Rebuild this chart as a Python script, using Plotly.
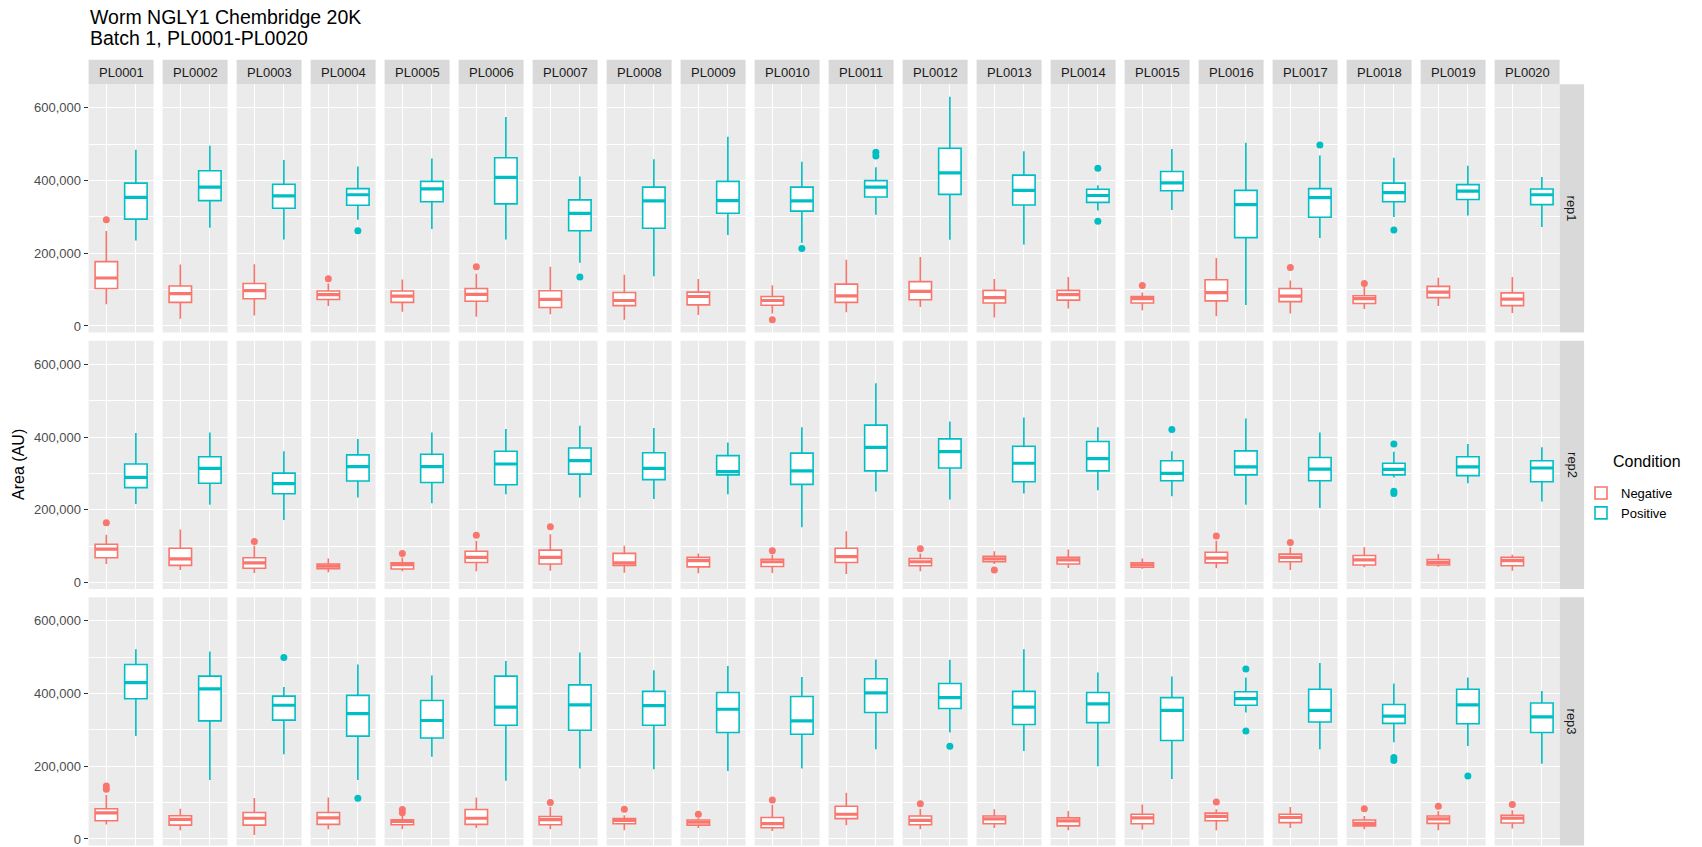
import plotly.graph_objects as go

# ---------------- data (values in thousands of AU) ----------------
UNIT = 1000
plates = ["PL0001", "PL0002", "PL0003", "PL0004", "PL0005", "PL0006", "PL0007",
          "PL0008", "PL0009", "PL0010", "PL0011", "PL0012", "PL0013", "PL0014",
          "PL0015", "PL0016", "PL0017", "PL0018", "PL0019", "PL0020"]
reps = ["rep1", "rep2", "rep3"]
conditions = ["Negative", "Positive"]

# each box: [lower whisker, q1, median, q3, upper whisker]
rep1_neg = [[60, 103, 132, 177, 261], [20, 65, 89, 110, 169], [29, 75, 97, 117, 170],
            [55, 73, 86, 96, 117], [39, 65, 82, 96, 128], [25, 68, 87, 103, 144],
            [32, 51, 73, 97, 163], [17, 56, 70, 92, 141], [30, 58, 81, 93, 129],
            [34, 57, 70, 81, 112], [38, 65, 83, 115, 182], [52, 72, 95, 122, 190],
            [23, 63, 78, 98, 129], [48, 71, 86, 98, 135], [43, 63, 75, 81, 92],
            [27, 69, 92, 127, 187], [34, 67, 82, 103, 125], [47, 62, 75, 83, 107],
            [55, 78, 93, 109, 133], [36, 56, 74, 91, 135]]
rep1_neg_out = [[292], [], [], [130], [], [163], [], [], [], [17],
                [], [], [], [], [111], [], [161], [117], [], []]
rep1_pos = [[235, 294, 354, 393, 485], [270, 345, 382, 427, 496], [238, 324, 358, 390, 457],
            [292, 332, 361, 378, 439], [267, 342, 377, 398, 461], [238, 336, 409, 463, 575],
            [174, 262, 310, 347, 411], [137, 269, 344, 382, 459], [250, 310, 345, 398, 521],
            [229, 316, 344, 382, 452], [306, 355, 382, 400, 437], [237, 362, 421, 489, 631],
            [224, 333, 373, 415, 481], [318, 340, 359, 376, 387], [319, 372, 394, 425, 487],
            [58, 243, 334, 373, 504], [242, 299, 353, 378, 469], [300, 342, 367, 393, 463],
            [304, 348, 371, 389, 441], [272, 334, 361, 377, 410]]
rep1_pos_out = [[], [], [], [262], [], [], [135], [], [], [213],
                [468, 478], [], [], [434, 288], [], [], [498], [264], [], []]

rep2_neg = [[51, 68, 92, 105, 131], [34, 47, 65, 94, 146], [26, 39, 54, 68, 101],
            [28, 38, 45, 51, 66], [31, 37, 49, 54, 69], [31, 55, 69, 86, 115],
            [32, 51, 69, 89, 133], [27, 47, 54, 80, 101], [25, 43, 60, 69, 80],
            [26, 44, 57, 64, 76], [23, 55, 71, 94, 141], [31, 46, 57, 66, 80],
            [51, 57, 65, 72, 86], [40, 51, 62, 69, 91], [38, 42, 48, 54, 66],
            [39, 54, 67, 83, 115], [34, 57, 69, 78, 97], [42, 48, 62, 74, 97],
            [43, 48, 55, 63, 78], [32, 46, 60, 69, 76]]
rep2_neg_out = [[164], [], [113], [], [80], [130], [153], [], [], [87],
                [], [93], [34], [], [], [128], [110], [], [], []]
rep2_pos = [[216, 261, 289, 326, 411], [214, 273, 314, 346, 413], [172, 244, 272, 301, 361],
            [234, 279, 319, 351, 395], [218, 275, 319, 353, 413], [243, 269, 326, 361, 422],
            [234, 298, 335, 370, 431], [230, 283, 314, 357, 425], [243, 296, 305, 349, 385],
            [152, 270, 307, 356, 427], [250, 307, 372, 433, 548], [228, 315, 360, 395, 443],
            [245, 277, 328, 375, 454], [254, 307, 341, 388, 427], [237, 280, 300, 335, 361],
            [214, 296, 318, 362, 451], [205, 280, 312, 344, 413], [289, 296, 311, 328, 360],
            [273, 294, 318, 346, 381], [223, 277, 315, 335, 372]]
rep2_pos_out = [[], [], [], [], [], [], [], [], [], [],
                [], [], [], [], [421], [], [], [381, 251, 245], [], []]

rep3_neg = [[40, 50, 72, 83, 121], [24, 38, 54, 64, 83], [11, 38, 57, 73, 113],
            [27, 40, 58, 73, 114], [27, 39, 48, 53, 63], [30, 40, 57, 81, 114],
            [27, 39, 53, 62, 88], [24, 42, 51, 56, 65], [30, 38, 46, 52, 57],
            [22, 31, 42, 59, 94], [38, 56, 68, 90, 127], [27, 39, 51, 63, 83],
            [30, 42, 55, 63, 82], [24, 36, 50, 58, 77], [26, 42, 58, 68, 95],
            [24, 50, 62, 71, 82], [30, 45, 59, 68, 88], [27, 36, 43, 52, 63],
            [24, 43, 55, 63, 77], [29, 44, 57, 65, 79]]
rep3_neg_out = [[137, 146], [], [], [], [72, 81], [], [100], [82], [68], [107],
                [], [97], [], [], [], [102], [], [83], [90], [95]]
rep3_pos = [[283, 386, 430, 480, 522], [162, 325, 413, 448, 516], [233, 327, 368, 393, 418],
            [162, 283, 345, 395, 480], [226, 278, 326, 381, 450], [160, 313, 363, 448, 490],
            [194, 299, 369, 424, 513], [192, 313, 367, 406, 464], [187, 293, 357, 403, 476],
            [194, 288, 325, 392, 446], [247, 348, 402, 441, 494], [293, 359, 389, 428, 493],
            [242, 315, 363, 406, 522], [200, 320, 372, 403, 458], [165, 271, 354, 389, 447],
            [348, 368, 386, 405, 444], [247, 322, 354, 412, 484], [266, 318, 338, 370, 428],
            [256, 317, 369, 412, 444], [207, 293, 336, 374, 407]]
rep3_pos_out = [[], [], [499], [112], [], [], [], [], [], [],
                [], [255], [], [], [], [468, 297], [], [224, 216], [173], []]

y_ticks = [0, 200000, 400000, 600000]
y_minor = [100000, 300000, 500000]

stats = {("rep1", "Negative"): (rep1_neg, rep1_neg_out), ("rep1", "Positive"): (rep1_pos, rep1_pos_out),
         ("rep2", "Negative"): (rep2_neg, rep2_neg_out), ("rep2", "Positive"): (rep2_pos, rep2_pos_out),
         ("rep3", "Negative"): (rep3_neg, rep3_neg_out), ("rep3", "Positive"): (rep3_pos, rep3_pos_out)}

# ---------------- styling / geometry ----------------
W, H = 1702, 847
FONT = "Liberation Sans, Arial, Helvetica, sans-serif"
colors = {"Negative": "#F8766D", "Positive": "#00BFC4"}
xpos = {"Negative": 1, "Positive": 2}
BOX_W = 0.76
PANEL_L0, PANEL_STEP, PANEL_W = 88.6, 74.0, 65.0
ROW_T0, ROW_STEP, ROW_H = 84.3, 256.5, 248.2
STRIP = 24.5
Y_RANGE = [-18000, 665000]

def fx(px):
    return px / W

def fy(py):
    return 1 - py / H

fig = go.Figure()

for r, rep in enumerate(reps):
    for c, plate in enumerate(plates):
        xa = "x" if c == 0 else f"x{c + 1}"
        ya = "y" if r == 0 else f"y{r + 1}"
        for cond in conditions:
            box_list, out_list = stats[(rep, cond)]
            lo, q1, med, q3, hi = [v * UNIT for v in box_list[c]]
            xc = xpos[cond]
            first = (r == 0 and c == 0)
            fig.add_trace(go.Box(
                x=[xc], q1=[q1], median=[med], q3=[q3], lowerfence=[lo], upperfence=[hi],
                width=BOX_W, whiskerwidth=0, boxpoints=False,
                fillcolor="white", line=dict(color=colors[cond], width=1.6),
                name=cond, legendgroup=cond, showlegend=first,
                xaxis=xa, yaxis=ya, hoverinfo="skip"))
            fig.add_trace(go.Scatter(
                x=[xc - BOX_W / 2, xc + BOX_W / 2], y=[med, med], mode="lines",
                line=dict(color=colors[cond], width=3.2), showlegend=False,
                xaxis=xa, yaxis=ya, hoverinfo="skip"))
            outs = [v * UNIT for v in out_list[c]]
            if outs:
                fig.add_trace(go.Scatter(
                    x=[xc] * len(outs), y=outs, mode="markers",
                    marker=dict(color=colors[cond], size=7, line=dict(width=0)),
                    showlegend=False, xaxis=xa, yaxis=ya, hoverinfo="skip"))

layout = dict(
    width=W, height=H, margin=dict(l=0, r=0, t=0, b=0),
    paper_bgcolor="white", plot_bgcolor="#EBEBEB",
    font=dict(family=FONT, color="#4D4D4D"),
    hovermode=False,
    legend=dict(x=fx(1581), y=fy(478), xanchor="left", yanchor="top",
                font=dict(size=13, color="#000000"), tracegroupgap=0,
                itemwidth=30, bgcolor="rgba(0,0,0,0)", traceorder="normal"),
)

shapes = []
annotations = []

for c, plate in enumerate(plates):
    left = PANEL_L0 + c * PANEL_STEP
    key = "xaxis" if c == 0 else f"xaxis{c + 1}"
    layout[key] = dict(domain=[fx(left), fx(left + PANEL_W)], range=[0.4, 2.6],
                       tickvals=[1, 2], showticklabels=False, ticks="",
                       showgrid=True, gridcolor="white", gridwidth=1.4,
                       zeroline=False, showline=False, anchor="y3", fixedrange=True)
    shapes.append(dict(type="rect", xref="paper", yref="paper",
                       x0=fx(left), x1=fx(left + PANEL_W), y0=fy(ROW_T0 - STRIP), y1=fy(ROW_T0),
                       fillcolor="#D9D9D9", line=dict(width=0), layer="below"))
    annotations.append(dict(text=plate, xref="paper", yref="paper",
                            x=fx(left + PANEL_W / 2), y=fy(ROW_T0 - STRIP / 2),
                            xanchor="center", yanchor="middle", showarrow=False,
                            font=dict(size=13, color="#1A1A1A")))

right_edge = PANEL_L0 + (len(plates) - 1) * PANEL_STEP + PANEL_W
for r, rep in enumerate(reps):
    top = ROW_T0 + r * ROW_STEP
    key = "yaxis" if r == 0 else f"yaxis{r + 1}"
    layout[key] = dict(domain=[fy(top + ROW_H), fy(top)], range=Y_RANGE,
                       tickvals=y_ticks, ticktext=[f"{v:,}" for v in y_ticks],
                       ticks="outside", ticklen=4, tickwidth=1.1, tickcolor="#333333",
                       tickfont=dict(size=13, color="#4D4D4D"),
                       showgrid=True, gridcolor="white", gridwidth=1.4,
                       minor=dict(tickvals=y_minor, showgrid=True, gridcolor="white",
                                  gridwidth=0.7, ticks=""),
                       zeroline=False, showline=False, anchor="x", fixedrange=True)
    shapes.append(dict(type="rect", xref="paper", yref="paper",
                       x0=fx(right_edge), x1=fx(right_edge + STRIP),
                       y0=fy(top + ROW_H), y1=fy(top),
                       fillcolor="#D9D9D9", line=dict(width=0), layer="below"))
    annotations.append(dict(text=rep, xref="paper", yref="paper",
                            x=fx(right_edge + STRIP / 2), y=fy(top + ROW_H / 2),
                            xanchor="center", yanchor="middle", showarrow=False,
                            textangle=90, font=dict(size=13, color="#1A1A1A")))

annotations.append(dict(text="Worm NGLY1 Chembridge 20K", xref="paper", yref="paper",
                        x=fx(PANEL_L0 - 1), y=fy(16.7), xanchor="left", yanchor="middle",
                        showarrow=False, font=dict(size=19.5, color="#000000")))
annotations.append(dict(text="Batch 1, PL0001-PL0020", xref="paper", yref="paper",
                        x=fx(PANEL_L0 - 1), y=fy(38.5), xanchor="left", yanchor="middle",
                        showarrow=False, font=dict(size=19.5, color="#000000")))
annotations.append(dict(text="Area (AU)", xref="paper", yref="paper",
                        x=fx(19), y=fy(ROW_T0 + (2 * ROW_STEP + ROW_H) / 2),
                        xanchor="center", yanchor="middle", textangle=-90,
                        showarrow=False, font=dict(size=16, color="#000000")))
annotations.append(dict(text="Condition", xref="paper", yref="paper",
                        x=fx(1611), y=fy(461), xanchor="left", yanchor="middle",
                        showarrow=False, font=dict(size=16, color="#000000")))

layout["shapes"] = shapes
layout["annotations"] = annotations
fig.update_layout(**layout)

fig.write_html("out.html", config={"displayModeBar": False},
               post_script="document.body.style.margin='0';document.body.style.overflow='hidden';")
